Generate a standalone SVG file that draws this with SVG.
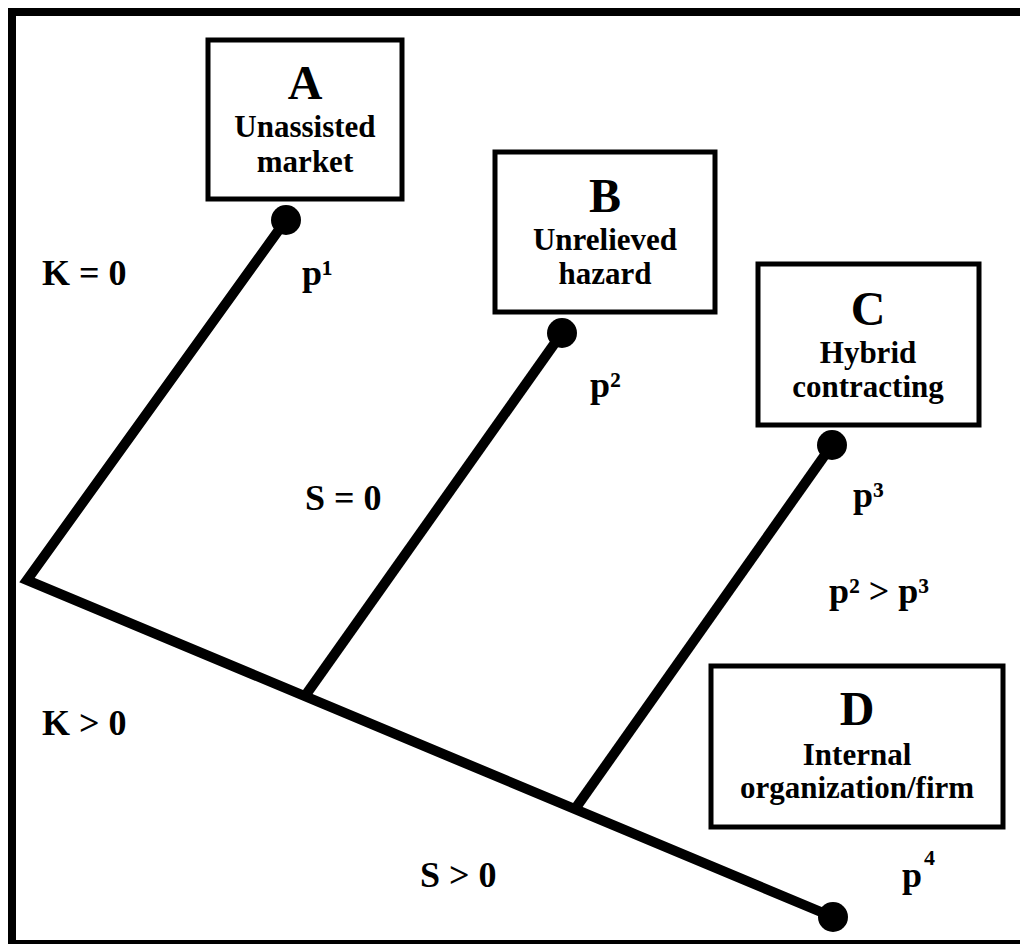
<svg xmlns="http://www.w3.org/2000/svg" width="1020" height="944" viewBox="0 0 1020 944">
<style>
text{font-family:"Liberation Serif","Times New Roman",serif;font-weight:bold;fill:#000}
.big{font-size:48px;text-anchor:middle}
.sub{font-size:31px;text-anchor:middle}
.lbl{font-size:36px}
.box{fill:#fff;stroke:#000;stroke-width:5}
.ln{fill:none;stroke:#000;stroke-width:10}
.sup{font-size:22px}
</style>
<rect x="0" y="0" width="1020" height="944" fill="#fff"/>
<rect x="12" y="12" width="1020" height="932" fill="none" stroke="#000" stroke-width="8"/>
<g id="connectors">
<polyline class="ln" points="286,220 27,580 833,917" stroke-linejoin="miter" stroke-miterlimit="10"/>
<line class="ln" x1="562" y1="333" x2="305" y2="696"/>
<line class="ln" x1="832" y1="445" x2="575" y2="809"/>
<circle cx="286" cy="220" r="15"/>
<circle cx="562" cy="333" r="15"/>
<circle cx="832" cy="445" r="15"/>
<circle cx="833" cy="917" r="15"/>
</g>
<g id="nodeA">
<rect class="box" x="208" y="40" width="194" height="159"/>
<text class="big" x="305" y="99">A</text>
<text class="sub" x="305" y="137">Unassisted</text>
<text class="sub" x="305" y="172">market</text>
</g>
<g id="nodeB">
<rect class="box" x="495" y="152" width="220" height="160"/>
<text class="big" x="605" y="212">B</text>
<text class="sub" x="605" y="250">Unrelieved</text>
<text class="sub" x="605" y="284">hazard</text>
</g>
<g id="nodeC">
<rect class="box" x="758" y="264" width="221" height="161"/>
<text class="big" x="868" y="325">C</text>
<text class="sub" x="868" y="363">Hybrid</text>
<text class="sub" x="868" y="397">contracting</text>
</g>
<g id="nodeD">
<rect class="box" x="711" y="666" width="292" height="161"/>
<text class="big" x="857" y="725">D</text>
<text class="sub" x="857" y="765">Internal</text>
<text class="sub" x="857" y="798">organization/firm</text>
</g>
<g id="labels">
<text class="lbl" x="42" y="285">K = 0</text>
<text class="lbl" x="42" y="735">K &gt; 0</text>
<text class="lbl" x="305" y="510">S = 0</text>
<text class="lbl" x="420" y="887">S &gt; 0</text>
<text class="lbl" x="302" y="285">p¹</text>
<text class="lbl" x="590" y="397">p²</text>
<text class="lbl" x="853" y="507">p³</text>
<text class="lbl" x="829" y="603">p² &gt; p³</text>
<text class="lbl" x="902" y="887">p<tspan class="sup" dx="2" dy="-22">4</tspan></text>
</g>
</svg>
